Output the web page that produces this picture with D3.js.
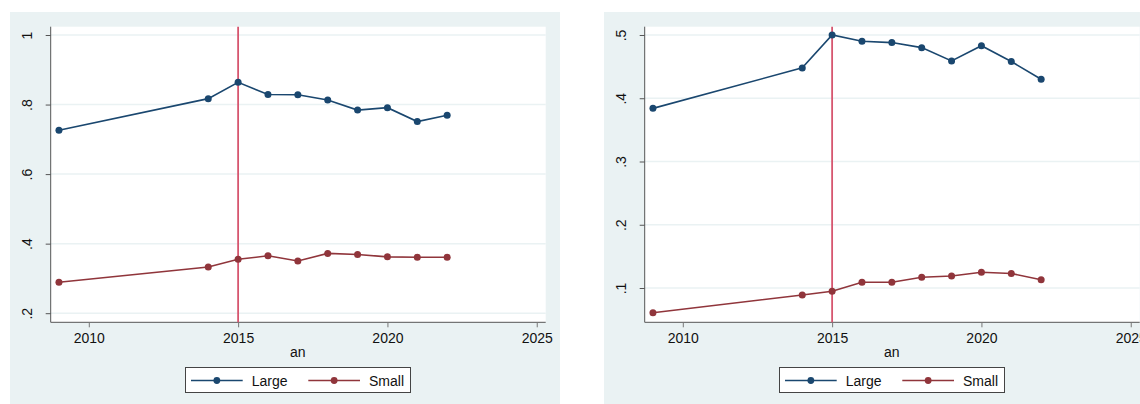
<!DOCTYPE html>
<html>
<head>
<meta charset="utf-8">
<script src="https://cdn.jsdelivr.net/npm/d3@7"></script>
<style>
  body { margin: 0; background: #fff; }
  svg text { font-family: "Liberation Sans", Arial, sans-serif; fill: #111; }
</style>
</head>
<body>
<svg id="chart" width="1140" height="404"></svg>
<script>
const years = [2009, 2014, 2015, 2016, 2017, 2018, 2019, 2020, 2021, 2022];

// left panel
const largeLeft = [0.726, 0.817, 0.864, 0.829, 0.828, 0.813, 0.784, 0.791, 0.751, 0.769];
const smallLeft = [0.289, 0.333, 0.355, 0.365, 0.350, 0.372, 0.369, 0.362, 0.361, 0.361];
const yTicksLeft = [0.2, 0.4, 0.6, 0.8, 1];
const yLabelsLeft = [".2", ".4", ".6", ".8", "1"];

// right panel
const largeRight = [0.384, 0.448, 0.500, 0.490, 0.488, 0.480, 0.459, 0.483, 0.458, 0.430];
const smallRight = [0.061, 0.089, 0.095, 0.109, 0.109, 0.117, 0.119, 0.125, 0.123, 0.113];
const yTicksRight = [0.1, 0.2, 0.3, 0.4, 0.5];
const yLabelsRight = [".1", ".2", ".3", ".4", ".5"];

const xTicks = [2010, 2015, 2020, 2025];
const markYear = 2015;
const seriesNames = ["Large", "Small"];
const colors = ["#1a476f", "#90353b"];

const svg = d3.select("#chart");

function drawPanel(dx, large, small, yDomain, yTicks, yLabels) {
    const g = svg.append("g").attr("transform", "translate(" + dx + ",0)");

    // graph region background
    g.append("rect")
        .attr("x", 10).attr("y", 12)
        .attr("width", 550).attr("height", 392)
        .attr("fill", "#eaf2f3");

    const plot = { left: 50.7, right: 545.7, top: 26.7, bottom: 322.3 };

    g.append("rect")
        .attr("x", plot.left).attr("y", plot.top)
        .attr("width", plot.right - plot.left)
        .attr("height", plot.bottom - plot.top)
        .attr("fill", "#fff");

    const x = d3.scaleLinear().domain([2008.724, 2025.3]).range([plot.left, plot.right]);
    const y = d3.scaleLinear().domain(yDomain).range([plot.bottom, plot.top]);

    // grid lines
    g.selectAll(".grid")
        .data(yTicks)
        .enter().append("line")
        .attr("x1", plot.left).attr("x2", plot.right)
        .attr("y1", d => y(d)).attr("y2", d => y(d))
        .attr("stroke", "#eaf2f3")
        .attr("stroke-width", 1.5);

    // y axis
    const yAxis = g.append("g")
        .attr("transform", "translate(" + plot.left + ",0)")
        .call(d3.axisLeft(y).tickValues(yTicks).tickSize(5).tickFormat((d, i) => yLabels[i]));
    yAxis.select(".domain").attr("stroke", "#555").attr("d", "M0," + plot.top + "V" + plot.bottom);
    yAxis.selectAll(".tick line").attr("stroke", "#555");
    yAxis.selectAll(".tick text")
        .attr("x", 0).attr("dy", 0)
        .attr("transform", "translate(-19,0) rotate(-90)")
        .attr("text-anchor", "middle")
        .style("font-size", "14px");

    // x axis
    const xAxis = g.append("g")
        .attr("transform", "translate(0," + plot.bottom + ")")
        .call(d3.axisBottom(x).tickValues(xTicks).tickSize(5).tickFormat(d3.format("d")));
    xAxis.select(".domain").attr("stroke", "#555").attr("d", "M" + plot.left + ",0H" + plot.right);
    xAxis.selectAll(".tick line").attr("stroke", "#777");
    xAxis.selectAll(".tick text")
        .attr("y", 20.5).attr("dy", 0)
        .style("font-size", "14px");

    g.append("text")
        .attr("x", 297.7).attr("y", 357)
        .attr("text-anchor", "middle")
        .style("font-size", "14px")
        .text("an");

    // vertical line at 2015
    g.append("line")
        .attr("x1", x(markYear)).attr("x2", x(markYear))
        .attr("y1", plot.top).attr("y2", plot.bottom)
        .attr("stroke", "#d6566f")
        .attr("stroke-width", 1.8);

    const line = d3.line().x((d, i) => x(years[i])).y(d => y(d));
    [large, small].forEach((vals, k) => {
        g.append("path")
            .datum(vals)
            .attr("d", line)
            .attr("fill", "none")
            .attr("stroke", colors[k])
            .attr("stroke-width", 1.6);
        g.selectAll(".pt" + k)
            .data(vals)
            .enter().append("circle")
            .attr("cx", (d, i) => x(years[i]))
            .attr("cy", d => y(d))
            .attr("r", 3.5)
            .attr("fill", colors[k]);
    });

    // legend
    const leg = g.append("g");
    leg.append("rect")
        .attr("x", 185.5).attr("y", 367.5)
        .attr("width", 225).attr("height", 25)
        .attr("fill", "#fff")
        .attr("stroke", "#444")
        .attr("stroke-width", 1);
    const items = [
        { x0: 191, x1: 242.7, tx: 251.7 },
        { x0: 308.3, x1: 360, tx: 369 }
    ];
    items.forEach((it, k) => {
        leg.append("line")
            .attr("x1", it.x0).attr("x2", it.x1)
            .attr("y1", 380.5).attr("y2", 380.5)
            .attr("stroke", colors[k]).attr("stroke-width", 1.4);
        leg.append("circle")
            .attr("cx", (it.x0 + it.x1) / 2).attr("cy", 380.5)
            .attr("r", 3.4).attr("fill", colors[k]);
        leg.append("text")
            .attr("x", it.tx).attr("y", 385.5)
            .style("font-size", "14px")
            .text(seriesNames[k]);
    });
}

drawPanel(0, largeLeft, smallLeft, [0.1738, 1.0239], yTicksLeft, yLabelsLeft);
drawPanel(594, largeRight, smallRight, [0.0458, 0.5131], yTicksRight, yLabelsRight);
</script>
</body>
</html>
